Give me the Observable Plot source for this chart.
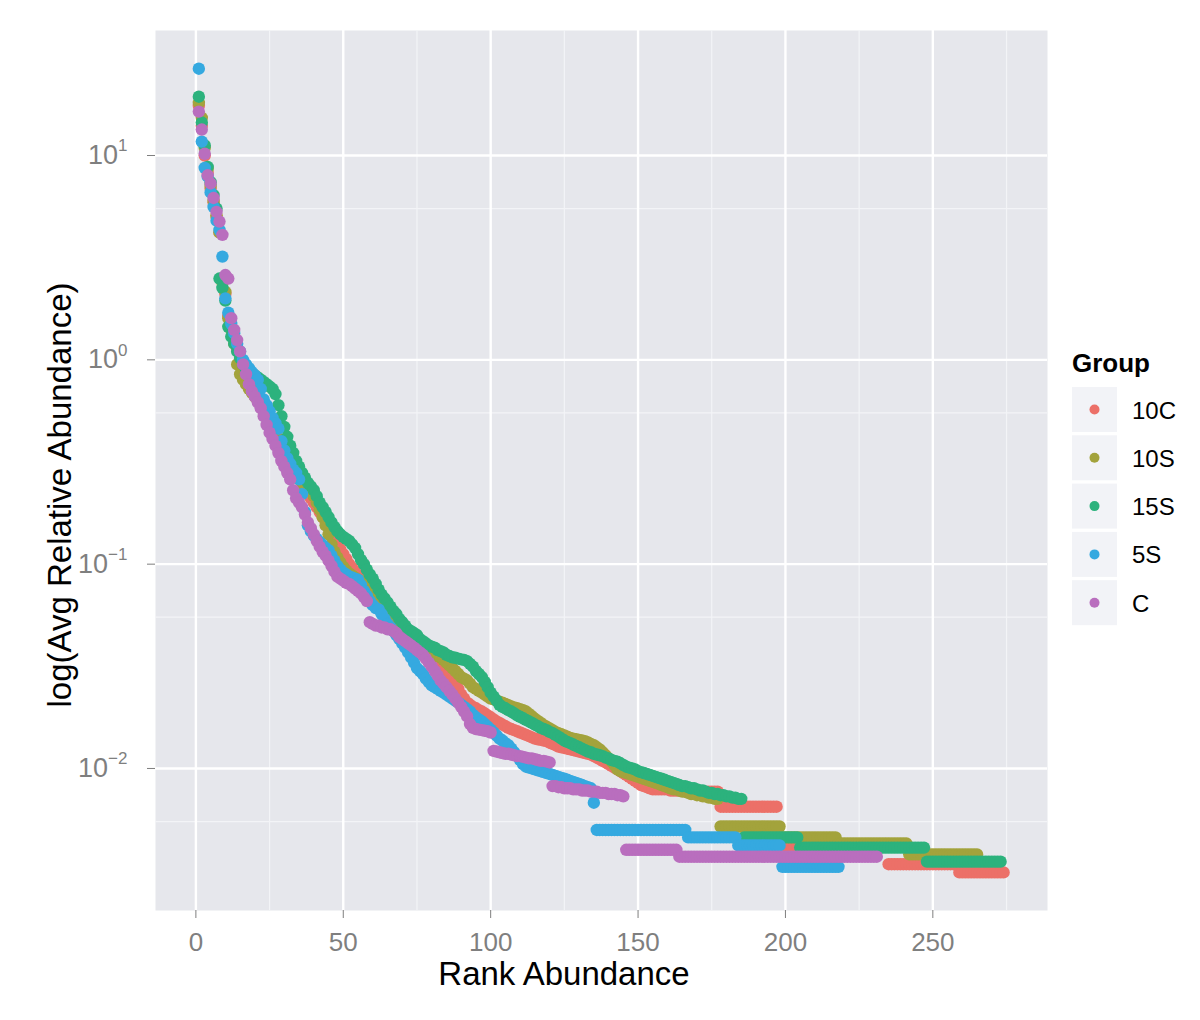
<!DOCTYPE html>
<html><head><meta charset="utf-8">
<script src="https://cdn.jsdelivr.net/npm/d3@7"></script>
<script src="https://cdn.jsdelivr.net/npm/@observablehq/plot@0.6"></script>
<style>
html,body{margin:0;padding:0;background:#fff;}
#wrap{position:relative;width:1200px;height:1020px;}
#wrap svg{position:absolute;left:0;top:0;}
</style></head><body><div id="wrap"></div>
<script>
const groups = ["10C", "10S", "15S", "5S", "C"];
const colors = ["#EC7068", "#A3A33C", "#2CB27D", "#35A9E0", "#B96EBE"];
const xTicks = [0, 50, 100, 150, 200, 250];
const xMinor = [25, 75, 125, 175, 225, 275];
const yTicks = [0.01, 0.1, 1, 10];
const yMinor = [0.0055, 0.055, 0.55, 5.5];
const xTitle = "Rank Abundance";
const yTitle = "log(Avg Relative Abundance)";
const legendTitle = "Group";

// values per rank (rank 1, 2, ...); tails are runs of tied values [value, count]
const g10C_curve = [17.5,14,10,8.2,6.9,5.9,5.0,4.2,2.45,2.1,
1.65,1.42,1.25,1.12,1.0,0.92,0.86,0.8,0.75,0.7,
0.66,0.62,0.58,0.54,0.5,0.47,0.44,0.41,0.39,0.37,
0.35,0.33,0.31,0.29,0.27,0.255,0.24,0.225,0.21,0.2,
0.19,0.18,0.17,0.162,0.155,0.145,0.135,0.125,0.118,0.112,
0.106,0.1,0.096,0.092,0.088,0.084,0.08,0.076,0.072,0.069,
0.066,0.063,0.06,0.058,0.056,0.054,0.052,0.05,0.048,0.046,
0.045,0.043,0.042,0.041,0.04,0.039,0.038,0.037,0.036,0.035,
0.034,0.033,0.032,0.031,0.03,0.029,0.0275,0.026,0.0245,0.023,
0.022,0.021,0.0205,0.02,0.0197,0.0193,0.019,0.0186,0.0182,0.0178,
0.0174,0.017,0.0167,0.0164,0.0161,0.0158,0.0156,0.0154,0.0152,0.015,
0.0148,0.0146,0.0144,0.0142,0.014,0.0139,0.0138,0.0137,0.0136,0.0134,
0.0132,0.013,0.0128,0.0127,0.0126,0.0125,0.0124,0.0123,0.0122,0.0121,
0.012,0.0119,0.0118,0.0117,0.0115,0.0113,0.0111,0.0109,0.0107,0.0105,
0.0103,0.0101,0.0099,0.0097,0.0095,0.0093,0.0091,0.0089,0.0087,0.0085,
0.0083,0.0082,0.0081,0.008];
const g10C_tail = [[0.0079,6],[0.0078,8],[0.0077,9],[0.0065,20],[0.0042,37],[0.0034,24],[0.0031,16]];

const g10S_curve = [18.1,15.3,10.9,8.6,7.1,6.0,5.1,4.2,2.4,2.15,
1.6,1.4,1.2,0.95,0.85,0.8,0.76,0.72,0.69,0.66,
0.63,0.6,0.56,0.52,0.49,0.46,0.43,0.4,0.37,0.35,
0.33,0.31,0.29,0.275,0.26,0.25,0.24,0.235,0.23,0.215,
0.2,0.185,0.17,0.155,0.14,0.125,0.115,0.108,0.102,0.097,
0.093,0.09,0.088,0.086,0.084,0.083,0.082,0.078,0.074,0.07,
0.067,0.064,0.061,0.059,0.057,0.055,0.053,0.051,0.049,0.047,
0.046,0.045,0.044,0.043,0.042,0.041,0.04,0.039,0.038,0.037,
0.036,0.0355,0.035,0.034,0.033,0.032,0.031,0.03,0.029,0.028,
0.0275,0.027,0.026,0.025,0.0245,0.024,0.0235,0.023,0.0225,0.022,
0.0218,0.0215,0.0212,0.021,0.0207,0.0204,0.0201,0.0199,0.0197,0.0195,
0.0193,0.019,0.0185,0.018,0.0175,0.0171,0.0167,0.0163,0.016,0.0157,
0.0154,0.0151,0.0149,0.0147,0.0145,0.0143,0.0141,0.014,0.0139,0.0138,
0.0137,0.0136,0.0134,0.0132,0.013,0.0127,0.0124,0.012,0.0116,0.0112,
0.0108,0.0104,0.0099,0.0097,0.0096,0.0095,0.0094,0.0093,0.0092,0.0091,
0.009,0.0089,0.0088,0.0087,0.0086,0.0085,0.0084,0.0083,0.0082,0.0081,
0.008,0.0079,0.0079,0.0078,0.0077,0.0077,0.0076,0.0075,0.0075,0.0074,
0.0074,0.0073,0.0073,0.0072,0.0072,0.0071,0.0071];
const g10S_tail = [[0.0052,21],[0.0046,19],[0.0043,24],[0.0038,24]];

const g15S_curve = [19.4,14.5,11.2,8.8,7.4,6.4,5.5,2.5,2.25,1.95,
1.45,1.3,1.2,1.1,1.02,0.95,0.9,0.87,0.85,0.84,
0.82,0.8,0.78,0.76,0.74,0.72,0.68,0.6,0.53,0.47,
0.42,0.38,0.35,0.32,0.3,0.28,0.265,0.25,0.24,0.23,
0.215,0.2,0.19,0.18,0.17,0.16,0.152,0.145,0.14,0.136,
0.133,0.13,0.125,0.12,0.112,0.105,0.1,0.094,0.089,0.085,
0.08,0.075,0.071,0.068,0.065,0.062,0.059,0.057,0.054,0.052,
0.05,0.048,0.047,0.046,0.045,0.043,0.042,0.041,0.04,0.0395,
0.039,0.038,0.0375,0.037,0.036,0.0355,0.035,0.0348,0.0345,0.0342,
0.034,0.0335,0.0325,0.0315,0.03,0.029,0.028,0.0265,0.025,0.0235,
0.0225,0.0215,0.0205,0.02,0.0197,0.0193,0.019,0.0186,0.0182,0.0179,
0.0176,0.0173,0.017,0.0167,0.0164,0.0161,0.0158,0.0156,0.0154,0.0151,
0.0149,0.0146,0.0143,0.014,0.0137,0.0135,0.0133,0.0131,0.0129,0.0127,
0.0125,0.0123,0.0121,0.012,0.0118,0.0117,0.0116,0.0115,0.0113,0.0112,
0.011,0.0109,0.0108,0.0106,0.0104,0.0102,0.0101,0.01,0.0099,0.0097,
0.0096,0.0095,0.0094,0.0093,0.0092,0.0091,0.009,0.0089,0.0088,0.0087,
0.0086,0.0085,0.0084,0.0083,0.0082,0.0082,0.0081,0.008,0.008,0.0079,
0.0078,0.0078,0.0077,0.0076,0.0076,0.0075,0.0075,0.0074,0.0074,0.0073,
0.0073,0.0072,0.0072,0.0071,0.0071];
const g15S_tail = [[0.0046,19],[0.0041,43],[0.0035,26]];

const g5S_curve = [26.6,11.7,8.7,7.9,6.6,5.6,4.8,4.33,3.2,2.0,
1.7,1.5,1.35,1.2,1.1,1.0,0.95,0.91,0.87,0.84,
0.8,0.72,0.64,0.6,0.56,0.52,0.49,0.46,0.4,0.36,
0.33,0.31,0.29,0.28,0.26,0.22,0.18,0.155,0.145,0.138,
0.133,0.128,0.124,0.12,0.117,0.11,0.104,0.098,0.094,0.091,
0.089,0.087,0.086,0.085,0.084,0.079,0.074,0.07,0.066,0.063,
0.061,0.06,0.057,0.054,0.051,0.049,0.047,0.045,0.043,0.041,
0.039,0.037,0.035,0.033,0.031,0.03,0.029,0.0275,0.0265,0.0255,
0.025,0.0245,0.024,0.0235,0.023,0.0225,0.022,0.0215,0.021,0.0205,
0.02,0.0195,0.019,0.0183,0.0178,0.0174,0.017,0.0165,0.016,0.0155,
0.015,0.0145,0.014,0.0137,0.0133,0.013,0.0125,0.012,0.0115,0.011,
0.0105,0.0102,0.0101,0.01,0.0099,0.0098,0.0097,0.0096,0.0095,0.0094,
0.0093,0.0092,0.0091,0.009,0.0089,0.0088,0.0087,0.0086,0.0085,0.0084,
0.0083,0.0082,0.0081,0.008,0.0068];
const g5S_tail = [[0.005,31],[0.0046,17],[0.0042,15],[0.0033,20]];

const gC_curve = [16.4,13.4,10.2,8.0,7.3,6.2,5.3,4.75,4.09,2.6,
2.5,1.6,1.4,1.25,1.1,0.95,0.85,0.76,0.7,0.66,
0.62,0.58,0.53,0.48,0.44,0.41,0.38,0.35,0.32,0.3,
0.28,0.26,0.23,0.21,0.2,0.19,0.175,0.16,0.15,0.14,
0.13,0.122,0.115,0.11,0.104,0.098,0.092,0.087,0.085,0.083,
0.081,0.08,0.078,0.076,0.074,0.072,0.069,0.066,0.052,0.051,
0.05,0.05,0.049,0.049,0.048,0.048,0.047,0.046,0.044,0.043,
0.042,0.041,0.04,0.039,0.038,0.037,0.036,0.0345,0.033,0.0315,
0.03,0.0285,0.027,0.026,0.025,0.024,0.023,0.022,0.021,0.02,
0.019,0.018,0.0165,0.0158,0.0156,0.0155,0.0154,0.0153,0.0152,0.015,
0.0122,0.0121,0.012,0.0119,0.0118,0.0118,0.0117,0.0116,0.0115,0.0115,
0.0114,0.0113,0.0112,0.0112,0.0111,0.011,0.0109,0.0109,0.0108,0.0107,
0.0082,0.0082,0.0081,0.0081,0.008,0.008,0.008,0.0079,0.0079,0.0079,
0.0078,0.0078,0.0078,0.0077,0.0077,0.0077,0.0076,0.0076,0.0076,0.0075,
0.0075,0.0075,0.0074,0.0074,0.0073];
const gC_tail = [[0.004,18],[0.0037,68]];

const series = [
  ["10C", g10C_curve, g10C_tail],
  ["10S", g10S_curve, g10S_tail],
  ["15S", g15S_curve, g15S_tail],
  ["5S", g5S_curve, g5S_tail],
  ["C", gC_curve, gC_tail]
];
const rows = [];
for (const [group, curve, tail] of series) {
  const vals = curve.slice();
  for (const [v, n] of tail) for (let k = 0; k < n; k++) vals.push(v);
  vals.forEach((v, i) => rows.push({group, rank: i + 1, value: v}));
}

const FONT = '"Liberation Sans", Arial, Helvetica, sans-serif';
const chart = Plot.plot({
  width: 1200, height: 1020,
  marginLeft: 155, marginRight: 153, marginTop: 30, marginBottom: 110,
  style: {fontFamily: FONT, background: "transparent", overflow: "visible"},
  x: {domain: [-13.7, 288.9]},
  y: {type: "log", domain: [0.002018, 40.91]},
  color: {domain: groups, range: colors},
  marks: [
    Plot.frame({fill: "#E6E7EC", stroke: null}),
    Plot.ruleX(xMinor, {stroke: "#F3F4F7", strokeWidth: 1.2}),
    Plot.ruleY(yMinor, {stroke: "#F3F4F7", strokeWidth: 1.2}),
    Plot.ruleX(xTicks, {stroke: "#FFFFFF", strokeWidth: 2.4}),
    Plot.ruleY(yTicks, {stroke: "#FFFFFF", strokeWidth: 2.4}),
    Plot.dot(rows, {x: "rank", y: "value", fill: "group", r: 6.2}),
    Plot.axisX({ticks: xTicks, tickSize: 8, tickPadding: 14, fontSize: 26, color: "#7F7F7F", label: null, tickFormat: d => String(d)}),
    Plot.axisY({ticks: yTicks, tickSize: 8, tickPadding: 20, fontSize: 27, color: "#7F7F7F", label: null,
      tickFormat: d => "10^" + Math.round(Math.log10(d))})
  ]
});
document.getElementById("wrap").appendChild(chart);

// superscript exponents on the y tick labels
d3.select(chart).selectAll('g[aria-label="y-axis tick label"] text').each(function () {
  const t = this.textContent;
  if (!t.includes("^")) return;
  const [b, e] = t.split("^");
  this.textContent = "";
  d3.select(this).append("tspan").text(b);
  d3.select(this).append("tspan").attr("dy", "-0.75em").attr("font-size", "17px").text(e.replace("-", "\u2212"));
});

// titles and legend
const ov = d3.select("#wrap").append("svg").attr("width", 1200).attr("height", 1020)
  .style("font-family", FONT);
ov.append("text").attr("x", 564).attr("y", 985).attr("text-anchor", "middle")
  .attr("font-size", 33).attr("fill", "#000").text(xTitle);
ov.append("text").attr("transform", "translate(71,495) rotate(-90)").attr("text-anchor", "middle")
  .attr("font-size", 33).attr("fill", "#000").text(yTitle);
ov.append("text").attr("x", 1072).attr("y", 372).attr("font-size", 26).attr("font-weight", "bold")
  .attr("fill", "#000").text(legendTitle);
groups.forEach((g, i) => {
  const top = 387 + i * 48.3;
  ov.append("rect").attr("x", 1072).attr("y", top).attr("width", 45).attr("height", 45).attr("fill", "#F2F3F7");
  ov.append("circle").attr("cx", 1094.5).attr("cy", top + 22.5).attr("r", 5).attr("fill", colors[i]);
  ov.append("text").attr("x", 1132).attr("y", top + 31.5).attr("font-size", 24).attr("fill", "#000").text(g);
});
</script></body></html>
